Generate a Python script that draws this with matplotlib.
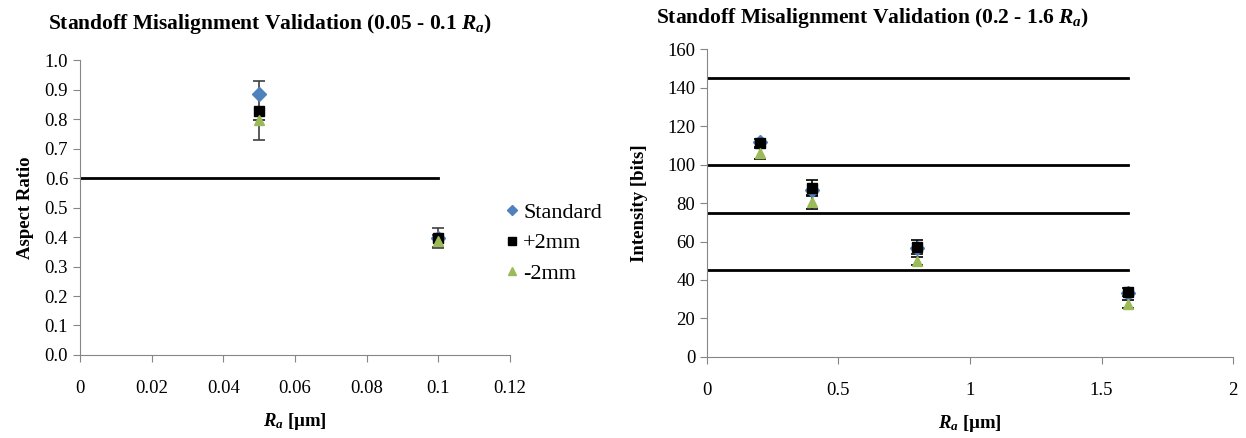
import matplotlib
matplotlib.use("Agg")
import matplotlib.pyplot as plt

plt.rcParams['font.family'] = ['Liberation Serif', 'DejaVu Serif']
plt.rcParams['mathtext.fontset'] = 'custom'
plt.rcParams['mathtext.it'] = 'Liberation Serif:italic:bold'
plt.rcParams['mathtext.rm'] = 'Liberation Serif:bold'

# Left chart data (0.05 - 0.1 Ra)
ra_low = [0.05, 0.1]
std_low = [0.885, 0.395]
std_low_err = [0.0, 0.0]
p2_low = [0.828, 0.397]
p2_low_err = [0.10, 0.035]
m2_low = [0.797, 0.387]
m2_low_err = [0.0, 0.02]
low_threshold = [0.6]
low_thr_x = [0, 0.1]

# Right chart data (0.2 - 1.6 Ra)
ra_high = [0.2, 0.4, 0.8, 1.6]
std_high = [111.5, 87.0, 56.5, 33.0]
std_high_err = [0.0, 0.0, 0.0, 0.0]
p2_high = [111.0, 87.8, 57.2, 33.8]
p2_high_err = [2.5, 4.0, 3.5, 2.0]
m2_high = [106.0, 80.5, 50.0, 27.5]
m2_high_err = [3.0, 3.5, 2.0, 2.0]
high_thresholds = [145, 100, 75, 45]
high_thr_x = [0, 1.6]

blue = '#4f81bd'
green = '#9bbb59'
gray = '#868686'

fig = plt.figure(figsize=(12.46, 4.38), dpi=100)
ax1 = fig.add_axes([0.0642, 0.1895, 0.3451, 0.6735])
ax2 = fig.add_axes([0.5674, 0.185, 0.4222, 0.703])

def style(ax):
    for s in ['top', 'right']:
        ax.spines[s].set_visible(False)
    for s in ['left', 'bottom']:
        ax.spines[s].set_color(gray)
    ax.tick_params(axis='both', colors=gray, labelcolor='black', labelsize=13.5, length=5)
    ax.tick_params(axis='x', pad=13)

def plot_series(ax, x, y, err, marker, color, ms, label, ecol):
    ax.errorbar(x, y, yerr=err, fmt=marker, color=color, ms=ms, mec=color,
                ecolor=ecol, elinewidth=1.2, capsize=4, capthick=1.2, label=label,
                zorder=3)

# Left
for yv in low_threshold:
    ax1.plot(low_thr_x, [yv, yv], color='black', lw=2, zorder=2)
plot_series(ax1, ra_low, std_low, std_low_err, 'D', blue, 7, 'Standard', blue)
plot_series(ax1, ra_low, p2_low, p2_low_err, 's', 'black', 7, '+2mm', '#404040')
plot_series(ax1, ra_low, m2_low, m2_low_err, '^', green, 7, '-2mm', '#404040')
ax1.set_xlim(0, 0.12)
ax1.set_ylim(0, 1.0)
ax1.set_xticks([0, 0.02, 0.04, 0.06, 0.08, 0.1, 0.12])
ax1.set_xticklabels(['0', '0.02', '0.04', '0.06', '0.08', '0.1', '0.12'])
ax1.set_yticks([i / 10 for i in range(11)])
ax1.set_yticklabels([f'{i/10:.1f}' for i in range(11)])
style(ax1)
ax1.set_xlabel(r'$R_a$ [µm]', fontsize=13.5, fontweight='bold', labelpad=10)
ax1.set_ylabel('Aspect Ratio', fontsize=13.5, fontweight='bold', labelpad=8)
handles, labels = ax1.get_legend_handles_labels()
fig.legend([h[0] for h in handles], labels, loc='center left', bbox_to_anchor=(0.386, 0.445),
           frameon=False, fontsize=16, handletextpad=0.0, labelspacing=0.45,
           handlelength=1.0, markerscale=0.8)

# Right
for yv in high_thresholds:
    ax2.plot(high_thr_x, [yv, yv], color='black', lw=2, zorder=2)
plot_series(ax2, ra_high, std_high, std_high_err, 'D', blue, 7, 'Standard', blue)
plot_series(ax2, ra_high, p2_high, p2_high_err, 's', 'black', 7, '+2mm', 'black')
plot_series(ax2, ra_high, m2_high, m2_high_err, '^', green, 7, '-2mm', 'black')
ax2.set_xlim(0, 2)
ax2.set_ylim(0, 160)
ax2.set_xticks([0, 0.5, 1, 1.5, 2])
ax2.set_xticklabels(['0', '0.5', '1', '1.5', '2'])
ax2.set_yticks(range(0, 161, 20))
style(ax2)
ax2.set_xlabel(r'$R_a$ [µm]', fontsize=13.5, fontweight='bold', labelpad=10)
ax2.set_ylabel('Intensity [bits]', fontsize=13.5, fontweight='bold', labelpad=14)

fig.text(0.217, 0.945, r'Standoff Misalignment Validation (0.05 - 0.1 $R_a$)',
         ha='center', va='center', fontsize=15.5, fontweight='bold')
fig.text(0.700, 0.958, r'Standoff Misalignment Validation (0.2 - 1.6 $R_a$)',
         ha='center', va='center', fontsize=15.5, fontweight='bold')

fig.savefig('out.png', dpi=100)
